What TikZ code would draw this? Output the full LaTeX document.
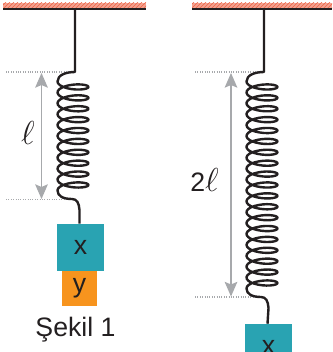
\documentclass[tikz,border=0pt]{standalone}
\usepackage{fontspec}
\setmainfont{Liberation Sans}
\usetikzlibrary{arrows.meta}
\usetikzlibrary{patterns}
\definecolor{boxblue}{RGB}{41,163,178}
\definecolor{boxorange}{RGB}{247,148,30}
\definecolor{ceilred}{RGB}{238,100,70}
\definecolor{wiregray}{RGB}{35,31,32}
\definecolor{arrowgray}{RGB}{167,169,172}
\tikzset{caption/.style={font=\fontsize{20}{24}\selectfont,text=wiregray,inner sep=0pt}}
\tikzset{xbox/.style={caption,fill=boxblue,minimum size=35.25pt}}
\tikzset{ybox/.style={caption,fill=boxorange,minimum size=26.25pt}}
\tikzset{wire/.style={draw=wiregray,line width=1.8pt,line join=round}}
\tikzset{ceiling/.style={draw=wiregray,line width=1.5pt}}
\tikzset{hatch/.style={pattern=north east lines,pattern color=ceilred}}
\tikzset{levelline/.style={draw=arrowgray,line width=.8pt,densely dotted}}
\tikzset{span/.style={draw=arrowgray,line width=1.1pt,{Stealth[length=11pt,width=9.5pt,inset=2pt]}-{Stealth[length=11pt,width=9.5pt,inset=2pt]}}}
\begin{document}
\begin{tikzpicture}[x=.75pt,y=-.75pt,declare function={coily(\t)=78.8+(270-\t)/360*10.89+5*sin(\t);}]
		\useasboundingbox (0,0) rectangle (332,352);
		\clip (0,0) rectangle (332,352);

		\fill[ceilred!60] (3,3) rectangle (146,8.5);
		\fill[hatch] (3,3) rectangle (146,8.5);
		\fill[ceilred!60] (192,3) rectangle (332,8.5);
		\fill[hatch] (192,3) rectangle (332,8.5);

		\coordinate(c1l) at (3,9);
		\coordinate(c1r) at (146,9);
		\coordinate(c2l) at (192,9);
		\coordinate(c2r) at (332,9);
		\draw[ceiling] (c1l) -- (c1r);
		\draw[ceiling] (c2l) -- (c2r);

		\coordinate(w1) at (75,9);
		\coordinate(t1) at (75,72);
		\coordinate(w2) at (264,9);
		\coordinate(t2) at (264,72);

		\node[xbox](x1) at (80.5,247.5){\raisebox{-1.5pt}{x}};
		\node[ybox](y1) at (79.5,288.5){\raisebox{-1pt}{y}};
		\node[caption](s1) at (75.5,330){Şekil 1};
		\node[xbox](x2) at (268.5,347.5){\raisebox{-1.5pt}{x}};

		\coordinate(a1) at (6,72);
		\coordinate(a2) at (75,72);
		\coordinate(b1) at (6,199.5);
		\coordinate(b2) at (73,199.5);
		\coordinate(a3) at (195,72);
		\coordinate(a4) at (264,72);
		\coordinate(b3) at (195,297);
		\coordinate(b4) at (262,297);
		\draw[levelline] (a1) -- (a2);
		\draw[levelline] (b1) -- (b2);
		\draw[levelline] (a3) -- (a4);
		\draw[levelline] (b3) -- (b4);

		\coordinate(p1) at (41.5,73);
		\coordinate(q1) at (41.5,199);
		\coordinate(p2) at (231,73);
		\coordinate(q2) at (231,296.5);
		\draw[span] (p1) -- (q1);
		\draw[span] (p2) -- (q2);

		\node[caption,font=\fontsize{26}{26}\selectfont](l1) at (28,133){$\ell$};
		\node[caption](l2) at (204.5,180){2\fontsize{26}{26}\selectfont$\ell$};

		\draw[wire] (w1) -- (t1) .. controls (66,72) and (57.5,75) .. (57.5,81.5) -- plot[smooth,samples=217,domain=180:-3420] ({73+15.5*cos(\x)},{coily(\x)}) .. controls (57.5,196) and (63,199) .. (72,199) .. controls (77,199) and (79,203) .. (79.5,210) -- ([xshift=-.75pt]x1.north);
		\draw[wire] (w2) -- (t2) .. controls (255,72) and (246.5,75) .. (246.5,81.5) -- plot[smooth,samples=433,domain=180:-6660] ({262+15.5*cos(\x)},{coily(\x)}) .. controls (246.5,294) and (252,297) .. (261,297) .. controls (266,297) and (268,301) .. (268.5,308) -- ([xshift=-.75pt]x2.north);
	\end{tikzpicture}
\end{document}
